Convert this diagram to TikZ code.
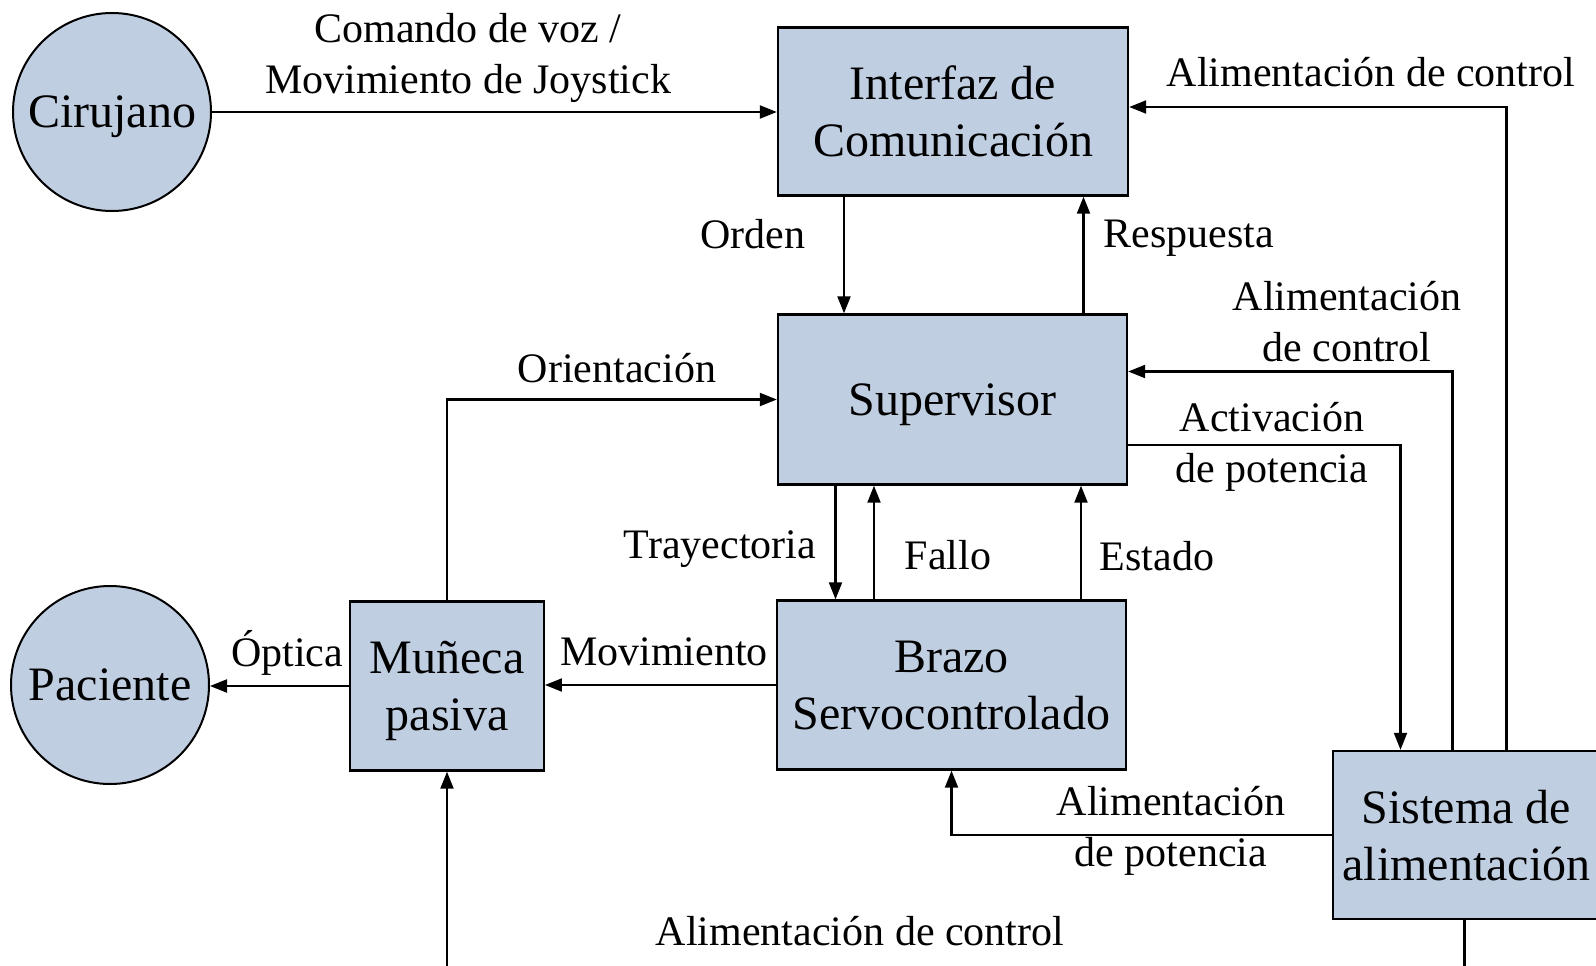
\documentclass[tikz,border=0pt]{standalone}
\usepackage{fontspec}
\setmainfont{Liberation Serif}
\usetikzlibrary{arrows.meta}
\definecolor{boxfill}{RGB}{192,206,226}
\tikzset{
  blk/.style={draw=black, line width=2.4pt, fill=boxfill, rectangle, inner sep=0pt, align=center, text depth=0pt, font=\fontsize{48}{57}\selectfont},
  ent/.style={draw=black, line width=2pt, fill=boxfill, circle, inner sep=0pt, text depth=0pt, minimum size=198pt, font=\fontsize{48}{57}\selectfont},
  lbl/.style={align=center, inner sep=0pt, font=\fontsize{42}{51}\selectfont},
  arr/.style={line width=2.1pt, -{Triangle[length=17pt,width=13pt]}},
}
\begin{document}
\begin{tikzpicture}[x=1pt,y=-1pt]
\useasboundingbox (0,0) rectangle (1596,966);
\clip (0,0) rectangle (1596,966);
\fill[white] (0,0) rectangle (1596,966);
\coordinate (bot) at (0,1010);
% nodes
\node[ent] (cir) at (112,112) {Cirujano};
\node[ent] (pac) at (110,685) {Paciente};
\node[blk, minimum width=350pt, minimum height=168pt] (inter) at (953,111.5) {Interfaz de\\Comunicación};
\node[blk, minimum width=349pt, minimum height=170pt] (super) at (952.5,399.5) {Supervisor};
\node[blk, minimum width=349pt, minimum height=169pt] (brazo) at (951.5,685) {Brazo\\Servocontrolado};
\node[blk, minimum width=193.5pt, minimum height=169pt] (mun) at (447,686) {Muñeca\\pasiva};
\node[blk, minimum width=267pt, minimum height=168pt] (sis) at (1466.5,835) {Sistema de\\alimentación};
% connectors
\draw[arr] (cir.east) -- (cir.east -| inter.west);
\draw[arr] ([xshift=-109pt]inter.south) -- ([xshift=-109pt]inter.south |- super.north);
\draw[arr] ([xshift=131pt]super.north) -- ([xshift=131pt]super.north |- inter.south);
\draw[arr] ([xshift=40pt]sis.north) |- ([yshift=4.5pt]inter.east);
\draw[arr] ([xshift=-14pt]sis.north) |- ([yshift=28pt]super.east);
\draw[arr] ([yshift=-45.5pt]super.east) -| ([xshift=-66pt]sis.north);
\draw[arr] (mun.north) |- (super.west);
\draw[arr] ([xshift=-117pt]super.south) -- ([xshift=-117pt]super.south |- brazo.north);
\draw[arr] ([xshift=-77.5pt]brazo.north) -- ([xshift=-77.5pt]brazo.north |- super.south);
\draw[arr] ([xshift=129.5pt]brazo.north) -- ([xshift=129.5pt]brazo.north |- super.south);
\draw[arr] (brazo.west) -- (brazo.west -| mun.east);
\draw[arr] (mun.west) -- (mun.west -| pac.east);
\draw[arr] (sis.west) -| (brazo.south);
\draw[arr] ([xshift=-2pt]sis.south) -- ([xshift=-2pt]sis.south |- bot) -| (mun.south);
% labels
\node[lbl] (l1) at (468,58) {Comando de voz /\\Movimiento de Joystick};
\node[lbl] (l2) at (753,234) {Orden};
\node[lbl] (l3) at (1189,238) {Respuesta};
\node[lbl] (l4) at (1371,72) {Alimentación de control};
\node[lbl] (l5) at (1347,322) {Alimentación\\de control};
\node[lbl] (l6) at (1272,447) {Activación\\de potencia};
\node[lbl] (l7) at (617,368) {Orientación};
\node[lbl] (l8) at (720,549) {Trayectoria};
\node[lbl] (l9) at (948,555) {Fallo};
\node[lbl] (l10) at (1157,556) {Estado};
\node[lbl] (l11) at (664,652) {Movimiento};
\node[lbl] (l12) at (287,653) {Óptica};
\node[lbl] (l13) at (1171,831) {Alimentación\\de potencia};
\node[lbl] (l14) at (860,931) {Alimentación de control};
\end{tikzpicture}
\end{document}
